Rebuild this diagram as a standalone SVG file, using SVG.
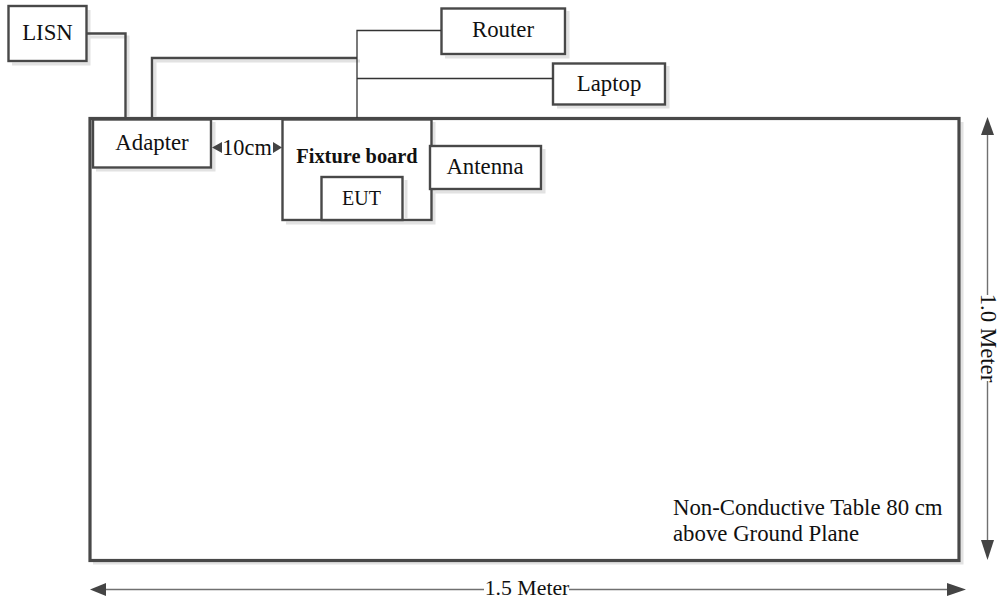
<svg xmlns="http://www.w3.org/2000/svg" width="999" height="601" viewBox="0 0 999 601">
<style>
text{font-family:"Liberation Serif","Times New Roman",serif;fill:#111}
.t{font-size:22.800px;text-anchor:middle}
.box{fill:#fff;stroke:#484848;stroke-width:2.4}
.sh{fill:none;stroke:#e2e2e2;stroke-width:3}
.w{fill:none;stroke:#484848;stroke-width:2.4}
.s{fill:none;stroke:#333;stroke-width:1.3}
.d{fill:none;stroke:#707070;stroke-width:1.4}
.a{fill:#444}
</style>
<rect width="999" height="601" fill="#fff"/>
<g id="table"><path class="sh" d="M962 122V563H93"/><rect x="90" y="118.500" width="869" height="442" fill="none" stroke="#484848" stroke-width="3.200"/></g>
<g id="lisn"><path class="sh" d="M89 10V64H12"/><rect class="box" x="8.500" y="6" width="78" height="55"/><text class="t" x="47.500" y="40">LISN</text></g>
<g id="adapter"><path class="sh" d="M214 122V170H96"/><rect class="box" x="93" y="119.500" width="118" height="48"/><text class="t" x="152" y="150">Adapter</text></g>
<g id="fixture"><path class="sh" d="M434 122V223H286"/><rect class="box" x="282.500" y="119.500" width="149" height="100.500"/><text x="357" y="163" font-size="20.400" font-weight="bold" text-anchor="middle">Fixture board</text></g>
<g id="eut"><path class="sh" d="M406 180V218"/><rect class="box" x="321.500" y="177" width="81" height="43"/><text x="361.500" y="205" font-size="20" text-anchor="middle">EUT</text></g>
<g id="antenna"><path class="sh" d="M544 149V192H433"/><rect class="box" x="430" y="146" width="111" height="43"/><text class="t" x="485" y="174">Antenna</text></g>
<g id="router"><path class="sh" d="M568 11V57H445"/><rect class="box" x="441.500" y="8.500" width="123.500" height="45.500"/><text class="t" x="503" y="37">Router</text></g>
<g id="laptop"><path class="sh" d="M668 66V107H557"/><rect class="box" x="553" y="63.500" width="112" height="41"/><text class="t" x="609" y="91">Laptop</text></g>
<g id="connectors">
<path class="sh" d="M89 37H128V117M155 117V61H360"/>
<path class="w" d="M86 33.500H125.500V118M152 118V58H357"/>
<path class="s" d="M441 30.500H357V118M357 78.500H553"/>
<path class="d" d="M100 589.500H484M569 589.500H955"/>
<path class="a" d="M90 589.500L106 583V596Z"/>
<path class="a" d="M966 589.500L947 583V596Z"/>
<path class="d" d="M987.500 130V295M987.500 381V550"/>
<path class="a" d="M987.500 117L981 135H994Z"/>
<path class="a" d="M987.500 560L981 540H994Z"/>
<path class="a" d="M212 147.500L222 142V153Z"/>
<path class="a" d="M282 147.500L273 142V153Z"/>
</g>
<text x="247" y="154.500" font-size="22.300" text-anchor="middle">10cm</text>
<text x="673" y="515" font-size="22.800">Non-Conductive Table 80 cm</text>
<text x="673" y="541" font-size="22.800">above Ground Plane</text>
<text x="527" y="595" font-size="21.800" text-anchor="middle">1.5 Meter</text>
<text class="t" transform="translate(980.500 338) rotate(90)">1.0 Meter</text>
</svg>
